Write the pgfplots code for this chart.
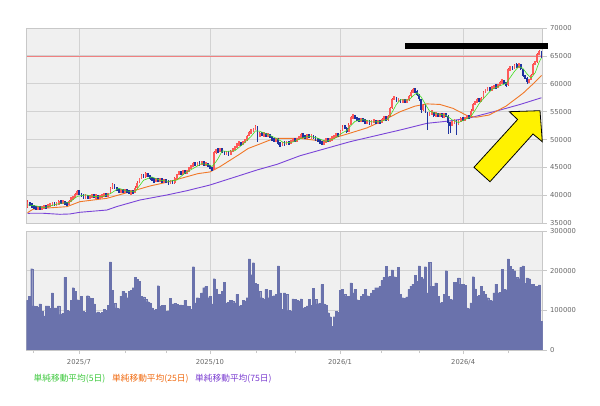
\documentclass[border=0pt]{standalone}
\usepackage{pgfplots}
\usepackage{pgfplotstable}
\pgfplotsset{compat=1.18}
\usepackage{fontspec}
\setmainfont{DejaVu Sans}
\newfontfamily\jpfont{Noto Sans CJK JP}

\definecolor{bgcol}{HTML}{F0F0F0}
\definecolor{gridcol}{HTML}{D2D2D2}
\definecolor{bordercol}{HTML}{C8C8C8}
\definecolor{labcol}{HTML}{666666}
\definecolor{upcol}{HTML}{FF5A5A}
\definecolor{upwick}{HTML}{F03C3C}
\definecolor{dncol}{HTML}{1E32A0}
\definecolor{ma5}{HTML}{44DD22}
\definecolor{ma25}{HTML}{F07828}
\definecolor{ma75}{HTML}{7A44D8}
\definecolor{volfill}{HTML}{6A72AC}
\definecolor{hline}{HTML}{F08080}
\definecolor{leg5}{HTML}{3CC83C}
\definecolor{leg25}{HTML}{F06A10}
\definecolor{leg75}{HTML}{7A3CD0}

\pgfplotstableread{
i o h l c v
0 38000 39100 37800 38700 125000
1 38700 38800 38100 38300 136000
2 38300 38500 37900 38100 205000
3 38100 38200 37600 37800 111000
4 37800 38000 37500 37700 110000
5 37700 38100 37500 37900 108000
6 37900 38000 37400 37600 116000
7 37600 38000 37500 37800 97000
8 37800 38200 37700 38000 86000
9 38000 38200 37700 37900 111000
10 37900 38400 37800 38200 111000
11 38200 38600 38000 38400 105000
12 38400 38900 38300 38600 144000
13 38600 38700 38100 38300 106000
14 38300 38700 38200 38500 106000
15 38500 39100 38400 38900 111000
16 38900 39000 38500 38700 90000
17 38700 39100 38600 38900 92000
18 38900 39000 38300 38500 183000
19 38500 38700 38200 38400 100000
20 38400 39200 38300 39000 98000
21 39000 39700 38900 39500 125000
22 39500 39900 39300 39700 157000
23 39700 40400 39600 40200 148000
24 40200 40900 40100 40700 127000
25 40700 40800 40100 40300 125000
26 40300 40400 39700 39900 136000
27 39900 40100 39500 39700 97000
28 39700 40100 39500 39900 95000
29 39900 40000 39400 39600 137000
30 39600 40000 39500 39800 132000
31 39800 40200 39700 40000 130000
32 40000 40100 39500 39700 116000
33 39700 40100 39600 39900 94000
34 39900 40000 39400 39600 96000
35 39600 40000 39500 39800 93000
36 39800 40100 39600 39900 95000
37 39900 40400 39800 40200 102000
38 40200 40300 39700 39900 100000
39 39900 40500 39800 40300 113000
40 40300 41500 40200 41300 222000
41 41300 42300 41200 42000 150000
42 42000 42100 41200 41400 118000
43 41400 41500 40800 41000 106000
44 41000 41100 40500 40700 104000
45 40700 41100 40500 40900 136000
46 40900 41000 40400 40600 148000
47 40600 41100 40500 40900 144000
48 40900 41000 40500 40700 132000
49 40700 40800 40200 40400 148000
50 40400 40800 40300 40600 150000
51 40600 40800 40300 40500 157000
52 40500 41600 40400 41400 183000
53 41400 42500 41300 42300 178000
54 42300 43200 42200 43000 173000
55 43000 43800 42900 43600 136000
56 43600 43700 43100 43300 134000
57 43300 44200 43200 43900 128000
58 43900 44000 43300 43500 122000
59 43500 43600 42800 43000 119000
60 43000 43200 42600 42800 106000
61 42800 42900 42300 42500 100000
62 42500 43100 42400 42900 103000
63 42900 43000 42400 42600 162000
64 42600 43000 42500 42800 111000
65 42800 42900 42300 42500 113000
66 42500 42900 42400 42700 112000
67 42700 42800 42200 42400 97000
68 42400 42500 42000 42200 99000
69 42200 42700 42100 42500 130000
70 42500 42600 42000 42200 116000
71 42200 43300 42100 43100 117000
72 43100 43900 43000 43700 115000
73 43700 44400 43600 44200 113000
74 44200 44300 43700 43900 114000
75 43900 44500 43800 44300 112000
76 44300 44400 43800 44000 125000
77 44000 44600 43900 44400 111000
78 44400 45100 44300 44900 110000
79 44900 45400 44800 45200 103000
80 45200 45900 45100 45700 210000
81 45700 45800 45300 45500 119000
82 45500 46000 45400 45800 132000
83 45800 45900 45400 45600 130000
84 45600 46100 45500 45900 144000
85 45900 46000 45300 45500 157000
86 45500 45900 45400 45700 160000
87 45700 45800 45000 45200 132000
88 45200 45300 44700 44900 136000
89 44900 45000 44300 44500 116000
90 44600 47900 44500 47700 180000
91 47700 48300 47500 48100 154000
92 48100 48400 47800 48000 140000
93 48000 48500 47900 48300 141000
94 48300 48400 47600 47800 148000
95 47800 47900 47300 47500 170000
96 47500 48000 47400 47800 119000
97 47800 47900 47100 47300 120000
98 47300 48100 47200 47900 125000
99 47900 48500 47800 48300 124000
100 48300 48900 48200 48700 119000
101 48700 49400 48600 49200 140000
102 49200 49600 49000 49400 111000
103 49400 49500 48900 49100 112000
104 49100 49800 49000 49600 125000
105 49600 50100 49500 49900 124000
106 49900 50900 49800 50700 132000
107 50700 51500 50600 51300 230000
108 51300 51800 51200 51600 190000
109 51600 52100 51500 51900 220000
110 51900 52600 51800 52300 168000
111 52300 52400 49600 50600 165000
112 50600 51300 50500 51100 148000
113 51100 51200 50600 50800 132000
114 50800 51200 50700 51000 128000
115 51000 51100 50500 50700 153000
116 50700 51100 50600 50900 132000
117 50900 51000 50200 50400 150000
118 50400 50500 49800 50000 136000
119 50000 50200 49600 49800 137000
120 49800 50300 49700 50100 140000
121 50100 50200 49000 49200 212000
122 49200 49400 48800 49000 144000
123 49000 49600 48900 49400 102000
124 49400 49600 49000 49200 144000
125 49200 49700 49100 49500 140000
126 49500 49600 49100 49300 100000
127 49300 50000 49200 49800 98000
128 49800 50200 49700 50000 129000
129 50000 50100 49600 49800 128000
130 49800 50300 49700 50100 125000
131 50100 50600 50000 50400 124000
132 50400 51100 50300 50900 129000
133 50900 51000 50400 50600 106000
134 50600 50700 50200 50400 108000
135 50400 50900 50300 50700 111000
136 50700 50800 50300 50500 128000
137 50500 50800 50400 50600 113000
138 50600 50700 50100 50300 155000
139 50300 50400 49900 50100 128000
140 50100 50200 49600 49800 116000
141 49800 49900 49300 49500 118000
142 49500 49600 49000 49300 165000
143 49300 49900 49200 49700 116000
144 49700 50200 49600 50000 114000
145 50000 50100 49600 49800 94000
146 49800 50300 49700 50100 84000
147 50100 50500 50000 50300 60000
148 50300 50800 50200 50600 84000
149 50600 51100 50500 50900 98000
150 50900 51000 50500 50700 95000
151 50700 51800 50600 51600 150000
152 51600 52600 51500 52300 153000
153 52300 52500 51900 52100 140000
154 52100 52200 51200 51400 136000
155 51400 52900 51300 52700 135000
156 52700 54300 52600 54000 169000
157 54000 54600 53900 54300 144000
158 54300 54400 53700 53900 153000
159 53900 54000 53400 53600 127000
160 53600 53700 53100 53300 125000
161 53300 53900 53200 53700 136000
162 53700 53800 53200 53400 140000
163 53400 53500 52900 53100 153000
164 53100 53500 53000 53300 137000
165 53300 53400 52700 52900 136000
166 52900 53400 52800 53200 144000
167 53200 53600 53100 53400 150000
168 53400 53500 52800 53000 157000
169 53000 53500 52900 53300 157000
170 53300 53400 52900 53100 160000
171 53100 53800 53000 53600 175000
172 53600 54300 53500 54100 183000
173 54100 54200 53300 53500 211000
174 53500 54400 53400 54200 185000
175 54200 55800 54100 55600 186000
176 55600 57500 55500 57300 202000
177 57300 57900 57200 57600 185000
178 57600 57700 56700 56900 184000
179 56900 57400 56800 57200 208000
180 57200 57300 56500 56700 140000
181 56700 57200 56600 57000 132000
182 57000 57100 56600 56800 130000
183 56800 57300 56700 57100 134000
184 57100 58000 57000 57800 153000
185 57800 58800 57700 58600 161000
186 58600 59200 58500 58900 166000
187 58900 59000 58500 58700 188000
188 58700 58800 57800 58000 173000
189 58000 58100 57000 57200 212000
190 57200 57300 54800 55300 183000
191 55300 56400 55100 56200 180000
192 56200 56300 54700 54900 210000
193 54900 55000 51700 54300 144000
194 54300 55000 54200 54800 221000
195 54800 55100 54600 54900 161000
196 54900 55000 54100 54300 160000
197 54300 54900 54200 54700 169000
198 54700 54800 54000 54200 136000
199 54200 54800 54100 54600 119000
200 54600 54700 53900 54100 120000
201 54100 54700 54000 54500 140000
202 54500 54700 54100 54300 200000
203 54300 54400 51000 53000 136000
204 53000 53200 51200 52700 128000
205 52700 53300 52500 53100 127000
206 53100 53600 53000 53400 171000
207 53400 53500 50800 52800 170000
208 52800 53500 52700 53300 182000
209 53300 54000 53200 53800 166000
210 53800 53900 53400 53600 165000
211 53600 54100 53500 53900 163000
212 53900 54300 53800 54100 106000
213 54100 54300 53800 54000 104000
214 54000 55400 53900 55200 119000
215 55200 56600 55100 56400 185000
216 56400 56900 56300 56700 154000
217 56700 57400 56600 57200 136000
218 57200 57300 56700 56900 138000
219 56900 57600 56800 57400 161000
220 57400 58700 57300 58500 148000
221 58500 59100 58400 58900 140000
222 58900 59400 58800 59200 132000
223 59200 59300 58800 59000 125000
224 59000 59500 58900 59300 124000
225 59300 59800 59200 59600 144000
226 59600 59700 59200 59400 166000
227 59400 59900 59300 59700 144000
228 59700 60500 59600 60300 145000
229 60300 60800 60200 60500 203000
230 60500 60600 60000 60200 153000
231 60200 60300 59500 59700 152000
232 59700 62800 59600 62600 230000
233 62600 63100 62500 62900 211000
234 62900 63000 62500 62700 203000
235 62700 63500 62600 63300 200000
236 63300 63700 62900 63100 183000
237 63100 63800 63000 63500 180000
238 63500 63600 62400 62600 208000
239 62600 62700 61200 61400 212000
240 61400 61600 60900 61100 168000
241 61100 61200 59900 60300 182000
242 60300 60900 60200 60700 180000
243 60700 61800 60600 61600 166000
244 61600 63700 61500 63500 165000
245 63500 64100 63400 63900 161000
246 63900 65500 63800 65300 160000
247 65300 66100 65200 65700 164000
248 65700 65800 64600 64800 73000
}\pricedata

\pgfplotsset{
  panel/.style={
    scale only axis, width=516bp,
    xmin=-0.5, xmax=248.5,
    axis background/.style={fill=bgcol},
    axis line style={draw=bordercol, line width=0.8bp},
    major grid style={draw=gridcol, line width=0.8bp},
    xmajorgrids, ymajorgrids,
    xtick={24.8,88,150.8,210.2},
    ytick pos=right, yticklabel pos=right,
    tick align=outside, major tick length=4bp, minor tick length=3bp,
    every tick/.style={draw=bordercol, line width=0.6bp},
    scaled y ticks=false,
    /pgf/number format/assume math mode=true,
    yticklabel={\pgfmathprintnumber[fixed,precision=0,1000 sep={},assume math mode=true]{\tick}},
    tick label style={font=\fontsize{6.8bp}{8bp}\selectfont, text=labcol},
  },
  candle/.style={draw=none, mark=none, forget plot,
    error bars/y dir=both, error bars/y explicit, error bars/error mark=none},
}

\begin{document}
\begin{tikzpicture}
\path[use as bounding box] (0,0) rectangle (600bp,406bp);

% price panel
\begin{axis}[panel, at={(26.5bp,182.7bp)}, anchor=south west, height=195.3bp,
  ymin=35000, ymax=70000, ytick={35000,40000,...,70000},
  xticklabels={}, xtick style={draw=none}]
\addplot[hline, line width=0.7bp, forget plot] coordinates {(-0.5,65000) (248.5,65000)};
% moving averages (drawn below candles except the 5-day line)
\addplot[ma75, line width=0.9bp] coordinates {
(0,36790) (7.4,36800) (15.6,36610) (20.4,36670) (25.2,36970) (38.3,37380) (43.1,38000)
(54.2,39170) (67.2,40070) (76.9,40840) (88,41860) (99.1,43170) (110.7,44550) (120.4,45570)
(131.5,47110) (155.6,49620) (179.8,51720) (192.8,52920) (203.9,53350) (213.5,53900)
(228,55300) (237.7,56300) (248,57500)};
\addplot[ma25, line width=0.9bp] coordinates {
(0,36900) (2.5,37500) (7.9,37700) (19,37980) (25.2,38870) (38.3,39480) (47.9,40480)
(59,41680) (67.2,42350) (76.9,43350) (82.2,43900) (88,44200) (92.8,45140) (102.5,47420)
(106.4,48400) (112.1,49210) (117,49930) (120.4,50230) (131.5,50230) (142.6,49700)
(155.6,51150) (163.8,52100) (171.5,53400) (179.8,55000) (187,56000) (192.8,56400)
(199,56300) (205.3,55600) (212.1,54300) (216.4,54000) (222.7,54400) (230.9,56000)
(239.1,58300) (244,60000) (248,61500)};
% wicks
\addplot[candle, restrict expr to domain={\thisrow{c}-\thisrow{o}}{0:100000},
  error bars/error bar style={draw=upwick, line width=0.6bp}]
  table[x=i, y expr={0.5*(\thisrow{h}+\thisrow{l})}, y error expr={0.5*(\thisrow{h}-\thisrow{l})}] {\pricedata};
\addplot[candle, restrict expr to domain={\thisrow{c}-\thisrow{o}}{-100000:-1},
  error bars/error bar style={draw=dncol, line width=0.6bp}]
  table[x=i, y expr={0.5*(\thisrow{h}+\thisrow{l})}, y error expr={0.5*(\thisrow{h}-\thisrow{l})}] {\pricedata};
% bodies
\addplot[candle, restrict expr to domain={\thisrow{c}-\thisrow{o}}{0:100000},
  error bars/error bar style={draw=upcol, line width=1.8bp}]
  table[x=i, y expr={0.5*(\thisrow{o}+\thisrow{c})}, y error expr={max(0.5*(\thisrow{c}-\thisrow{o}),380)}] {\pricedata};
\addplot[candle, restrict expr to domain={\thisrow{c}-\thisrow{o}}{-100000:-1},
  error bars/error bar style={draw=dncol, line width=1.8bp}]
  table[x=i, y expr={0.5*(\thisrow{o}+\thisrow{c})}, y error expr={max(0.5*(\thisrow{o}-\thisrow{c}),380)}] {\pricedata};
\addplot[ma5, line width=0.6bp] coordinates {
(0,38300) (4,38120) (8,37800) (12,38220) (16,38600) (20,38700) (24,39820) (28,40100)
(32,39800) (36,39780) (40,40320) (44,41280) (48,40760) (52,40720) (56,42720) (60,43300)
(64,42720) (68,42520) (72,42740) (76,44020) (80,44840) (84,45700) (88,45440) (89,45160)
(90,45600) (91,46080) (92,46640) (93,47320) (94,47980) (96,47880) (100,48000) (104,49200)
(108,50620) (110,51560) (112,51500) (116,50900) (120,50240) (124,49380) (128,49560)
(132,50240) (136,50620) (140,50260) (144,49660) (148,50160) (152,51220) (154,51620)
(156,52500) (158,53260) (162,53580) (166,53180) (170,53200) (174,53700) (176,54940)
(178,56320) (180,57140) (184,57080) (186,57840) (188,58400) (190,57620) (192,56320)
(194,55100) (198,54580) (202,54340) (205,53520) (208,53060) (212,53740) (214,54160)
(216,55280) (218,56480) (220,57340) (222,58180) (224,58980) (228,59660) (231,60080)
(233,61180) (235,62240) (237,63100) (239,62780) (241,61780) (243,61020) (245,62000)
(247,64000) (248,64640)};
\end{axis}

% volume panel
\begin{axis}[panel, at={(26.5bp,56bp)}, anchor=south west, height=119bp,
  ymin=0, ymax=300000, ytick={0,100000,200000,300000},
  xticklabels={2025/7,2025/10,2026/1,2026/4},
  xticklabel style={yshift=-1.5bp},
  minor xtick={3.0,47.4,67.2,110.2,129,170.6,188.9,231.9},
  xtick pos=bottom]
\addplot[ybar, bar width=1, bar shift=0pt, fill=volfill, draw=volfill, line width=0.2bp]
  table[x=i, y=v] {\pricedata};
\end{axis}

\begin{scope}[shift={(0,406bp)}, x=1bp, y=-1bp]
\fill[black] (405,43.3) rectangle (548,49.3);
\filldraw[fill=yellow, draw=black, line width=0.8bp]
  (540,110.7) -- (542.3,141.7) -- (533,134) -- (490,181.7) -- (474,167.3)
  -- (517.6,119.5) -- (509.3,111.7) -- cycle;
\node[anchor=west, inner sep=0, text=leg5, font=\jpfont\fontsize{8.7bp}{10bp}\selectfont] at (33.5,379) {単純移動平均(5日)};
\node[anchor=west, inner sep=0, text=leg25, font=\jpfont\fontsize{8.7bp}{10bp}\selectfont] at (112,379) {単純移動平均(25日)};
\node[anchor=west, inner sep=0, text=leg75, font=\jpfont\fontsize{8.7bp}{10bp}\selectfont] at (195,379) {単純移動平均(75日)};
\end{scope}
\end{tikzpicture}
\end{document}
